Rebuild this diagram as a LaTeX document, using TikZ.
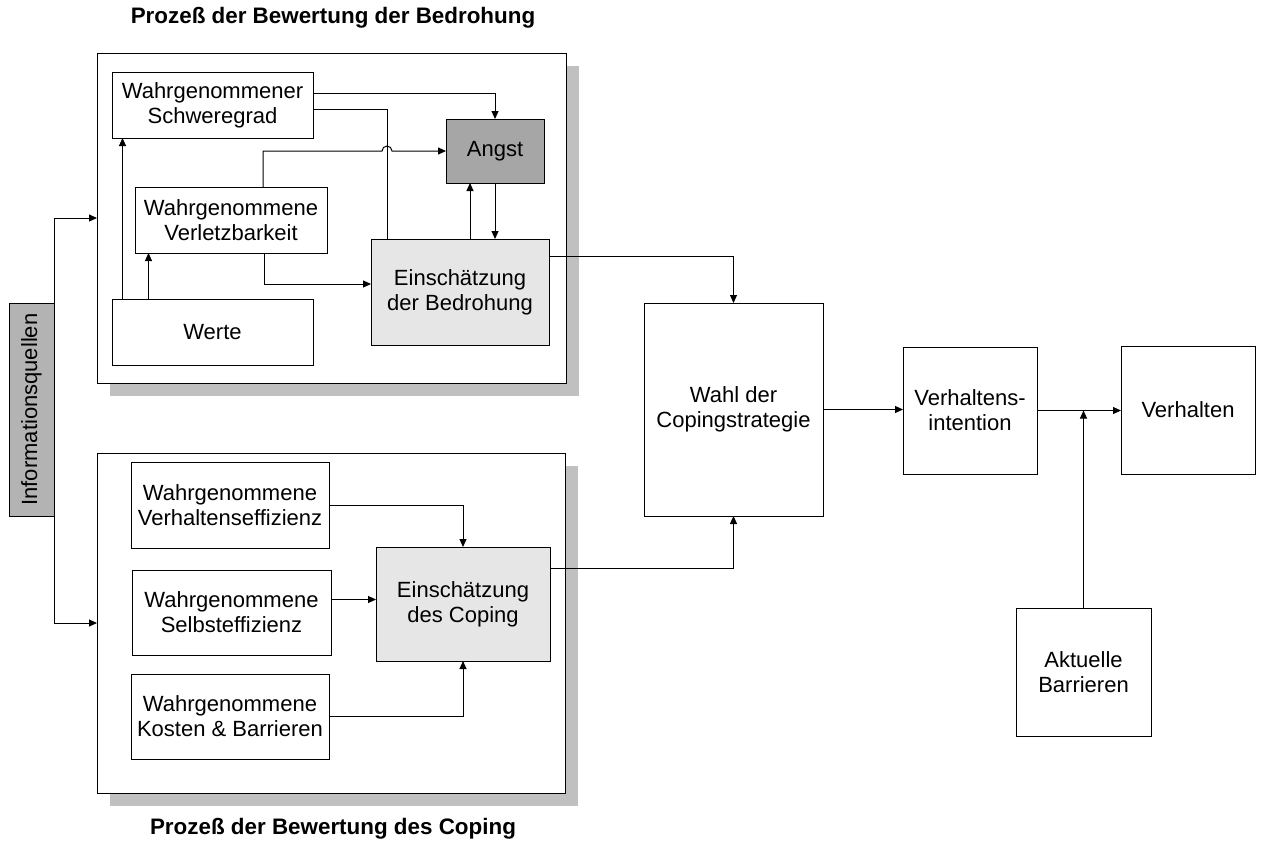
\documentclass[tikz,border=0pt]{standalone}
\usepackage{fontspec}
\setmainfont{Liberation Sans}
\usetikzlibrary{arrows.meta,backgrounds}
\definecolor{shadowgray}{HTML}{C0C0C0}
\definecolor{angstgray}{HTML}{A6A6A6}
\definecolor{infogray}{HTML}{B3B3B3}
\definecolor{softgray}{HTML}{E6E6E6}
% box given by its corners: style, name, x1, y1, x2, y2, text
\newcommand\placebox[7]{%
  \node[#1, minimum width={(#5-#3)*1pt}, minimum height={(#6-#4)*1pt}]
    (#2) at ({(#3+#5)/2},{(#4+#6)/2}) {#7};}
\tikzset{
  box/.style={draw, line width=1pt, fill=white, inner sep=0pt, outer sep=0pt,
    align=center, font=\fontsize{22}{25}\selectfont},
  frame/.style={box},
  arr/.style={-{Triangle[length=8pt,width=7pt]}, line width=1pt},
  plain/.style={line width=1pt},
  title/.style={font=\fontsize{22.4}{25}\selectfont\bfseries},
}
\begin{document}
\begin{tikzpicture}[x=1pt,y=-1pt]
\useasboundingbox (0,0) rectangle (1261,841);

% group frames
\placebox{frame}{threat}{97}{53}{566}{383}{}
\placebox{frame}{coping}{97}{453}{565}{793}{}
\begin{scope}[on background layer]
  \fill[shadowgray] ([shift={(13pt,-13pt)}]threat.south west) rectangle ([shift={(13pt,-13pt)}]threat.north east);
  \fill[shadowgray] ([shift={(13pt,-13pt)}]coping.south west) rectangle ([shift={(13pt,-13pt)}]coping.north east);
\end{scope}

\node[title] (t1) at (333,18) {Prozeß der Bewertung der Bedrohung};
\node[title] (t2) at (333,829) {Prozeß der Bewertung des Coping};

% information sources
\placebox{box, fill=infogray}{info}{9}{303}{54}{516}{\rotatebox{90}{Informationsquellen}}

% threat appraisal
\placebox{box}{schwere}{112}{72}{313}{138}{Wahrgenommener\\Schweregrad}
\placebox{box, fill=angstgray}{angst}{446}{119}{544}{183}{Angst}
\placebox{box}{verl}{135}{187}{327}{253}{Wahrgenommene\\Verletzbarkeit}
\placebox{box}{werte}{112}{299}{313}{365}{Werte}
\placebox{box, fill=softgray}{bedro}{371}{239}{549}{345}{Einschätzung\\der Bedrohung}

% coping appraisal
\placebox{box}{veff}{131}{462}{329}{548}{Wahrgenommene\\Verhaltenseffizienz}
\placebox{box}{selb}{132}{570}{331}{655}{Wahrgenommene\\Selbsteffizienz}
\placebox{box}{kost}{131}{674}{329}{759}{Wahrgenommene\\Kosten \& Barrieren}
\placebox{box, fill=softgray}{copa}{376}{547}{550}{661}{Einschätzung\\des Coping}

% right-hand chain
\placebox{box}{wahl}{644}{303}{823}{516}{Wahl der\\Copingstrategie}
\placebox{box}{vint}{903}{347}{1037}{474}{Verhaltens-\\intention}
\placebox{box}{verh}{1121}{346}{1255}{474}{Verhalten}
\placebox{box}{barr}{1016}{608}{1151}{736}{Aktuelle\\Barrieren}

% sources feed both appraisals
\draw[arr] (info.north east) |- (threat.west);
\draw[arr] (info.south east) |- (coping.west);

% threat appraisal connectors
\draw[arr] ([yshift=12pt]schwere.east) -| (angst.north);
\coordinate (jx) at ([xshift=16pt]bedro.north west);
\draw[plain] ([yshift=-4pt]schwere.east) -| (jx);
\coordinate (hop) at (jx |- angst.west);
\draw[arr] ([xshift=32pt]verl.north) |- ([xshift=-5pt]hop)
  arc[start angle=180, end angle=0, radius=5pt] -- (angst.west);
\draw[arr] (angst.south) -- (angst.south |- bedro.north);
\coordinate (up) at ([xshift=-25pt]angst.south);
\draw[arr] (up |- bedro.north) -- (up);
\draw[arr] ([xshift=33pt]verl.south) |- ([yshift=8pt]bedro.west);
\draw[arr] ([xshift=-90pt]werte.north) -- ([xshift=-90pt]werte.north |- schwere.south);
\draw[arr] ([xshift=-64pt]werte.north) -- ([xshift=-64pt]werte.north |- verl.south);
\draw[arr] ([yshift=36pt]bedro.east) -| (wahl.north);

% coping appraisal connectors
\draw[arr] (veff.east) -| (copa.north);
\coordinate (sy) at ([yshift=13pt]selb.east);
\draw[arr] (sy) -- (sy -| copa.west);
\draw[arr] (kost.east) -| (copa.south);
\draw[arr] ([yshift=36pt]copa.east) -| (wahl.south);

% intention and behaviour
\draw[arr] (wahl.east) -- (wahl.east -| vint.west);
\draw[arr] (vint.east) -- (vint.east -| verh.west);
\draw[arr] (barr.north) -- (barr.north |- vint.east);
\end{tikzpicture}
\end{document}
